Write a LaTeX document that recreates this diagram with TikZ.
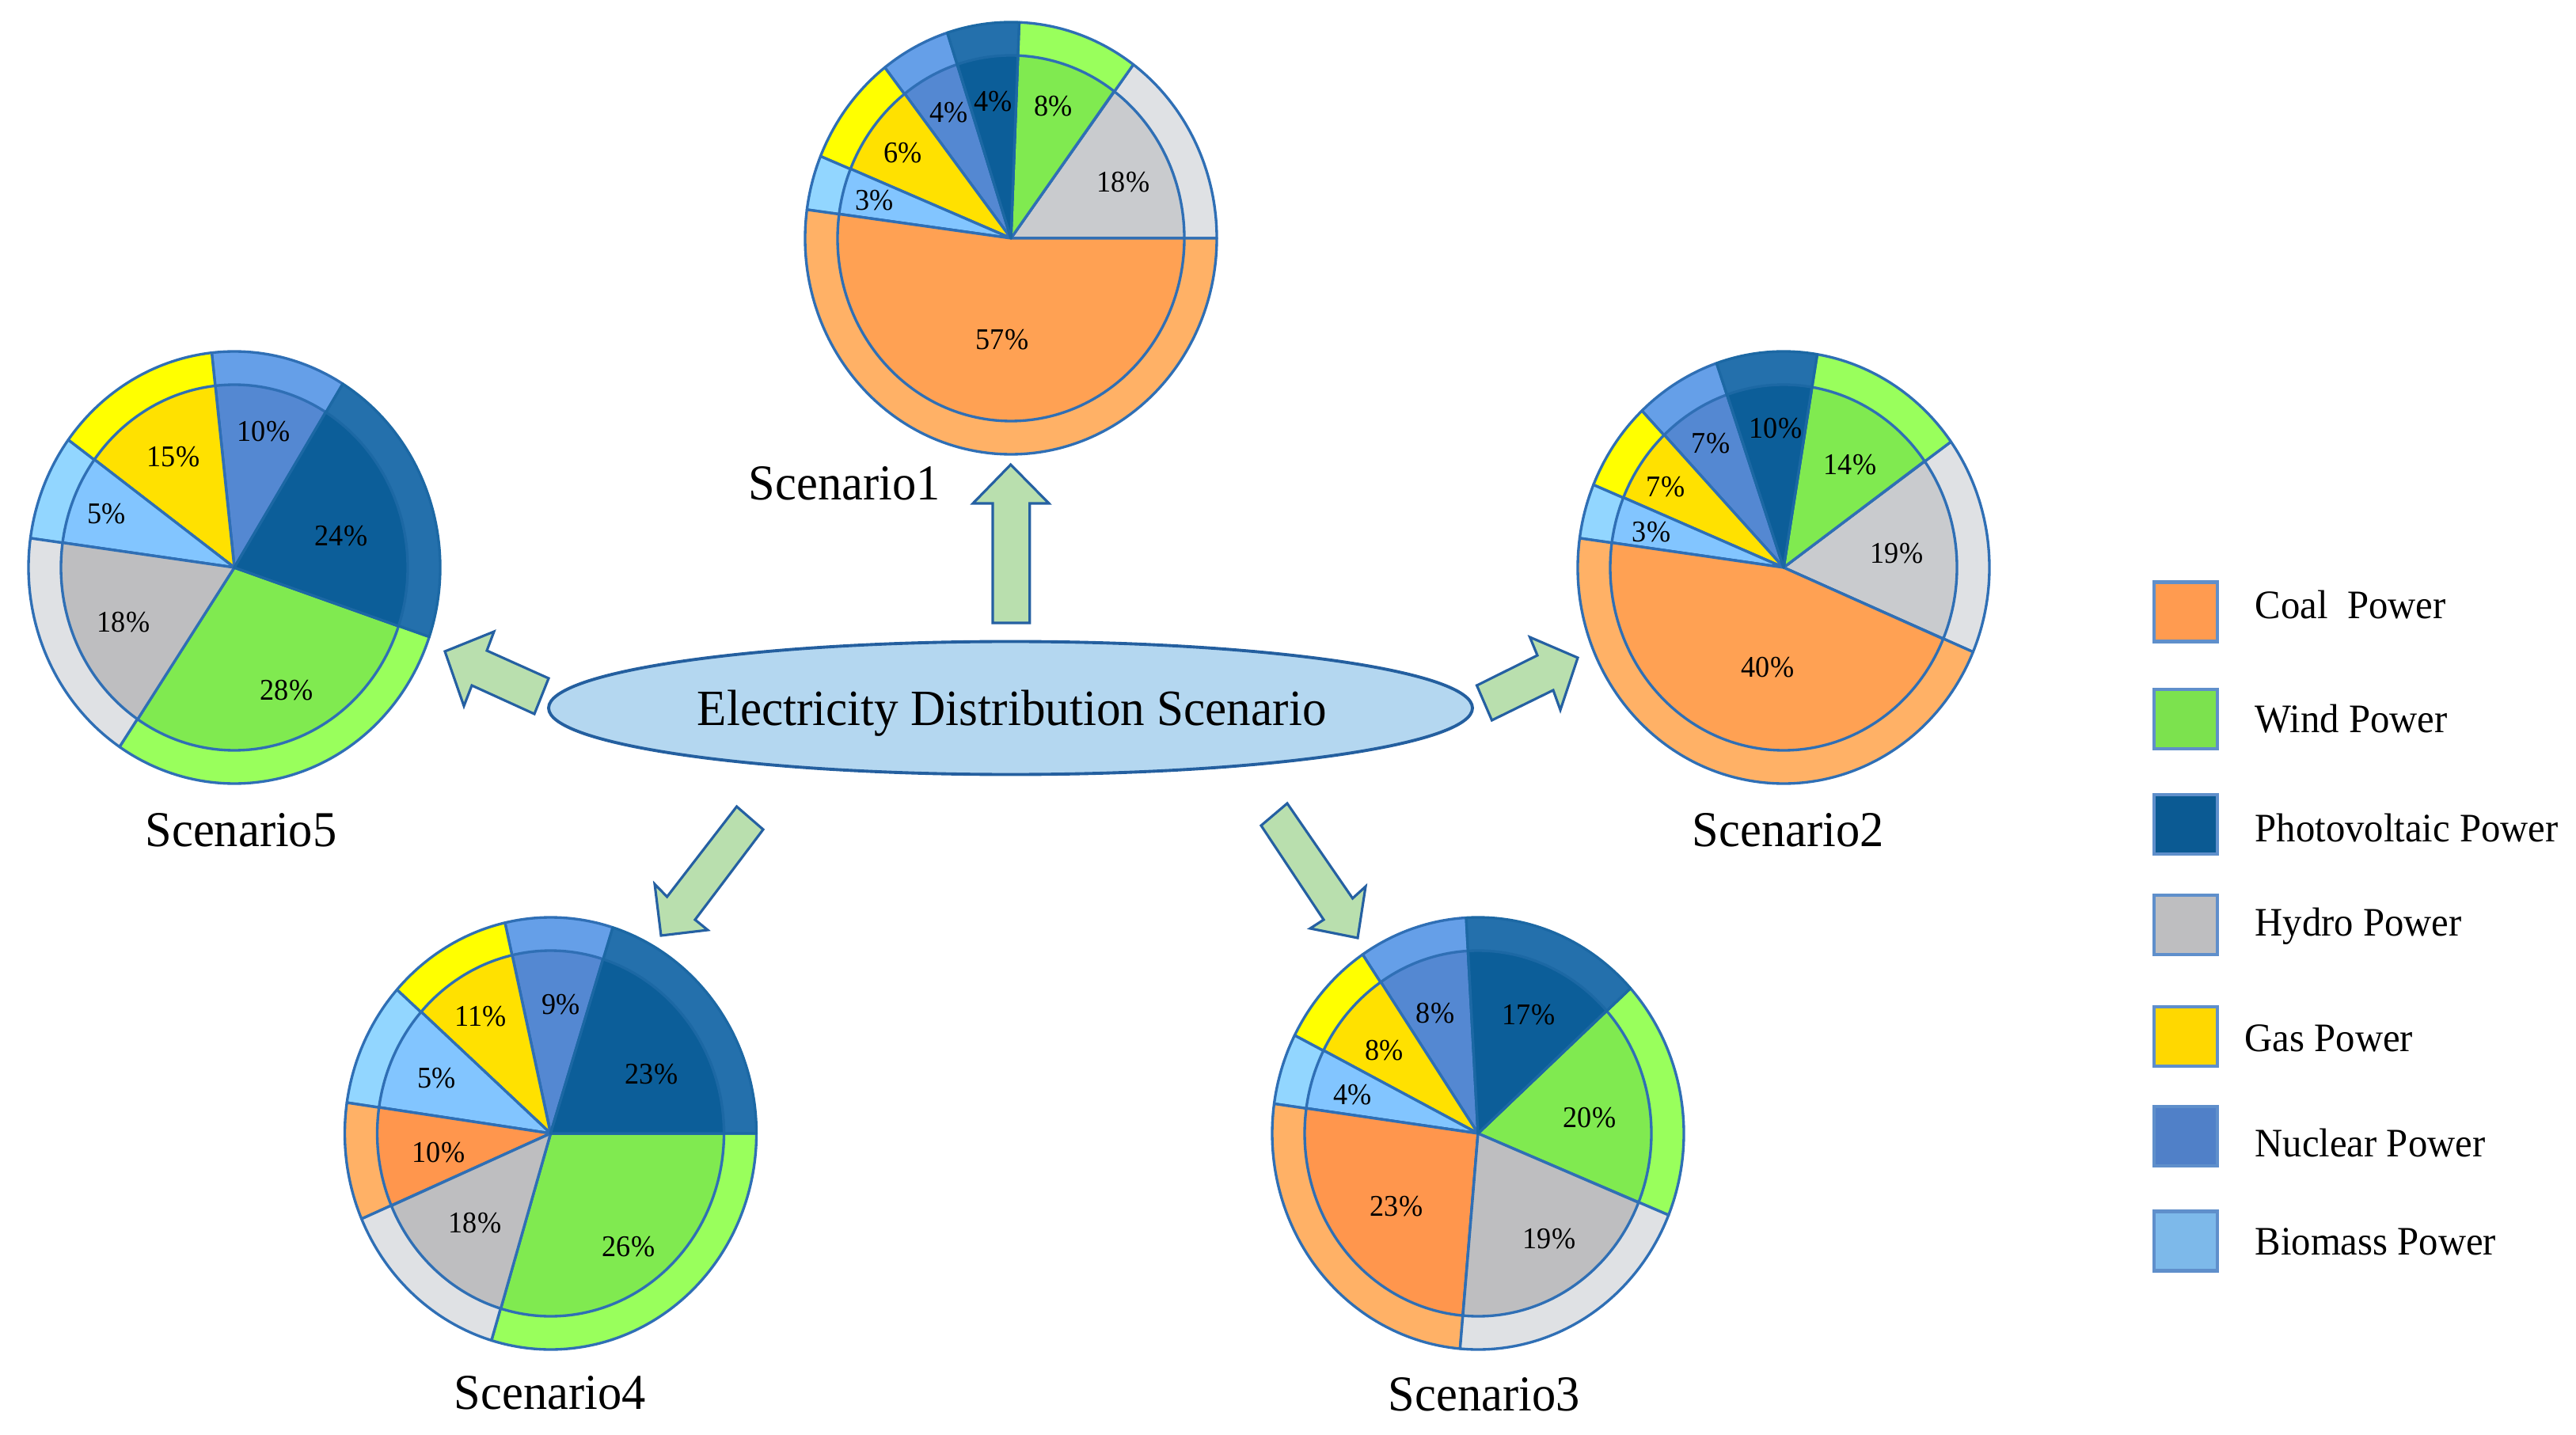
\documentclass[tikz,border=0pt]{standalone}
\usepackage{fontspec}
\setmainfont{Liberation Serif}
\usetikzlibrary{shapes.geometric}

\definecolor{coalin}{HTML}{FFA153}
\definecolor{coalout}{HTML}{FFB166}
\definecolor{coalline}{HTML}{2F6FB5}
\definecolor{coaldkin}{HTML}{FF964D}
\definecolor{coaldkout}{HTML}{FFB166}
\definecolor{coaldkline}{HTML}{2F6FB5}
\definecolor{windin}{HTML}{80EA50}
\definecolor{windout}{HTML}{99FF5C}
\definecolor{windline}{HTML}{2F6FB5}
\definecolor{pvin}{HTML}{0C5E99}
\definecolor{pvout}{HTML}{2470AC}
\definecolor{pvline}{HTML}{1C68A4}
\definecolor{hydroin}{HTML}{C9CBCE}
\definecolor{hydroout}{HTML}{DFE1E4}
\definecolor{hydroline}{HTML}{2F6FB5}
\definecolor{hydrodkin}{HTML}{BEBEC0}
\definecolor{hydrodkout}{HTML}{DFE1E4}
\definecolor{hydrodkline}{HTML}{2F6FB5}
\definecolor{gasin}{HTML}{FFE100}
\definecolor{gasout}{HTML}{FFFF00}
\definecolor{gasline}{HTML}{2F6FB5}
\definecolor{nuclearin}{HTML}{5488D2}
\definecolor{nuclearout}{HTML}{659FE8}
\definecolor{nuclearline}{HTML}{2F6FB5}
\definecolor{bioin}{HTML}{82C5FF}
\definecolor{bioout}{HTML}{92D6FF}
\definecolor{bioline}{HTML}{2F6FB5}

\tikzset{
    pct/.style={font=\fontsize{10.3}{12}\selectfont,yscale=1.05,transform shape},
    title/.style={font=\fontsize{17.2}{20}\selectfont,anchor=base west,inner sep=0pt,yscale=1.05,transform shape},
    legendbox/.style={draw=legendline,line width=1.3pt,minimum width=0.8cm,minimum height=0.75cm,inner sep=0pt},
    legendtext/.style={font=\fontsize{13.85}{16}\selectfont,anchor=base west,inner sep=0pt,yscale=1.05,transform shape},
    flowarrow/.style={draw=arrowline,fill=arrowfill,line width=0.9pt,line join=miter},
    slice/.style={line width=0.95pt,line join=round}
}
\definecolor{legendline}{HTML}{5F8FCB}
\definecolor{arrowline}{HTML}{2560A2}
\definecolor{arrowfill}{HTML}{B9DFAE}
\definecolor{centrefill}{HTML}{B4D7F0}
\definecolor{centreline}{HTML}{245F9F}

% one wedge of a pie: start angle, end angle, fuel
\newcommand{\pieslice}[3]{
    \draw[slice,draw=#3line,fill=#3out] (0,0) -- (#1:2.60 and 2.73)
        arc[start angle=#1,end angle=#2,x radius=2.60,y radius=2.73] -- cycle;
    \draw[slice,draw=#3line,fill=#3in] (0,0) -- (#1:2.19 and 2.31)
        arc[start angle=#1,end angle=#2,x radius=2.19,y radius=2.31] -- cycle;
}

\begin{document}
\begin{tikzpicture}
    \useasboundingbox (0,0) rectangle (32.54,18.12);

    % Scenario1
    \begin{scope}[shift={(12.77,15.11)}]
        \foreach \from/\to/\fuel in {0/53.5/hydro,53.5/87.7/wind,108/127.8/nuclear,127.8/157.7/gas,157.7/172.4/bio,172.4/360/coal,87.7/108/pv}
            {\pieslice{\from}{\to}{\fuel}}
    \end{scope}
    % Scenario2
    \begin{scope}[shift={(22.53,10.95)}]
        \foreach \from/\to/\fuel in {-23/35.6/hydro,35.6/80.6/wind,109/133.5/nuclear,133.5/157.5/gas,157.5/172.2/bio,172.2/337/coal,80.6/109/pv}
            {\pieslice{\from}{\to}{\fuel}}
    \end{scope}
    % Scenario3
    \begin{scope}[shift={(18.67,3.80)}]
        \foreach \from/\to/\fuel in {-22.2/42.2/wind,93.3/124.1/nuclear,124.1/153/gas,153/172.1/bio,172.1/265/coaldk,265/337.8/hydrodk,42.2/93.3/pv}
            {\pieslice{\from}{\to}{\fuel}}
    \end{scope}
    % Scenario4
    \begin{scope}[shift={(6.955,3.80)}]
        \foreach \from/\to/\fuel in {253.3/360/wind,72.4/102.8/nuclear,102.8/138.3/gas,138.3/171.8/bio,171.8/203.3/coaldk,203.3/253.3/hydrodk,0/72.4/pv}
            {\pieslice{\from}{\to}{\fuel}}
    \end{scope}
    % Scenario5
    \begin{scope}[shift={(2.96,10.95)}]
        \foreach \from/\to/\fuel in {236.1/341.3/wind,58.2/96.3/nuclear,96.3/143.8/gas,143.8/172.2/bio,172.2/236.1/hydrodk,-18.7/58.2/pv}
            {\pieslice{\from}{\to}{\fuel}}
    \end{scope}

    % percentages
    \foreach \name/\x/\y/\val in {
        aa/12.66/13.83/57,ab/14.19/15.82/18,ac/13.31/16.78/8,ad/12.55/16.84/4,ae/11.99/16.70/4,af/11.41/16.19/6,ag/11.05/15.59/3,
        ba/22.33/9.69/40,bb/23.96/11.13/19,bc/23.37/12.25/14,bd/22.43/12.71/10,be/21.61/12.52/7,bf/21.04/11.97/7,bg/20.86/11.40/3,
        ca/17.64/2.88/23,cb/19.57/2.47/19,cc/20.08/4.00/20,cd/19.31/5.30/17,ce/18.13/5.32/8,cf/17.49/4.85/8,cg/17.09/4.29/4,
        da/5.54/3.56/10,db/6.00/2.67/18,dc/7.94/2.37/26,dd/8.23/4.55/23,de/7.09/5.43/9,df/6.07/5.28/11,dg/5.52/4.50/5,
        eb/1.56/10.26/18,ec/3.62/9.40/28,ed/4.31/11.35/24,ee/3.33/12.67/10,ef/2.19/12.35/15,eg/1.35/11.63/5}
        \node[pct] (\name) at (\x,\y) {\val\%};

    % centre and arrows
    \node[ellipse,draw=centreline,fill=centrefill,line width=1.1pt,minimum width=11.67cm,minimum height=1.68cm,inner sep=0pt] (centre) at (12.765,9.175) {};
    \node[title,font=\fontsize{17.4}{20}\selectfont] (centretext) at (8.80,8.95) {Electricity Distribution Scenario};
    \draw[flowarrow] (12.767,12.25) -- (13.25,11.76) -- (13.007,11.76) -- (13.007,10.25) -- (12.54,10.25) -- (12.54,11.76) -- (12.29,11.76) -- cycle;
    \draw[flowarrow] (5.62,9.89) -- (6.24,10.14) -- (6.15,9.90) -- (6.93,9.55) -- (6.75,9.10) -- (5.96,9.46) -- (5.86,9.20) -- cycle;
    \draw[flowarrow] (18.655,9.46) -- (19.42,9.84) -- (19.325,10.07) -- (19.93,9.81) -- (19.71,9.15) -- (19.62,9.40) -- (18.845,9.02) -- cycle;
    \draw[flowarrow] (9.306,7.93) -- (9.64,7.64) -- (8.78,6.50) -- (8.94,6.37) -- (8.35,6.30) -- (8.27,6.95) -- (8.426,6.79) -- cycle;
    \draw[flowarrow] (16.26,7.97) -- (15.93,7.69) -- (16.72,6.50) -- (16.55,6.39) -- (17.15,6.27) -- (17.25,6.92) -- (17.086,6.77) -- cycle;

    % scenario names
    \node[title] (scenarioa) at (9.45,11.80) {Scenario1};
    \node[title] (scenariob) at (21.37,7.43) {Scenario2};
    \node[title] (scenarioc) at (17.53,0.30) {Scenario3};
    \node[title] (scenariod) at (5.73,0.32) {Scenario4};
    \node[title] (scenarioe) at (1.83,7.43) {Scenario5};

    % legend
    \foreach \name/\col/\y/\tx/\ty/\lab in {
        coal/FF9B50/10.39/28.48/10.30/Coal\ \ Power,
        wind/7CE24E/9.035/28.48/8.87/Wind Power,
        photo/0B5A93/7.705/28.48/7.49/Photovoltaic Power,
        hydro/BEBEC0/6.435/28.48/6.30/Hydro Power,
        gas/FFD800/5.025/28.35/4.84/Gas Power,
        nuclear/5080C8/3.765/28.48/3.51/Nuclear Power,
        biomass/7DB9EA/2.44/28.48/2.27/Biomass Power}{
        \definecolor{boxfill}{HTML}{\col}
        \node[legendbox,fill=boxfill] (\name box) at (27.61,\y) {};
        \node[legendtext] (\name text) at (\tx,\ty) {\lab};
    }
\end{tikzpicture}
\end{document}
